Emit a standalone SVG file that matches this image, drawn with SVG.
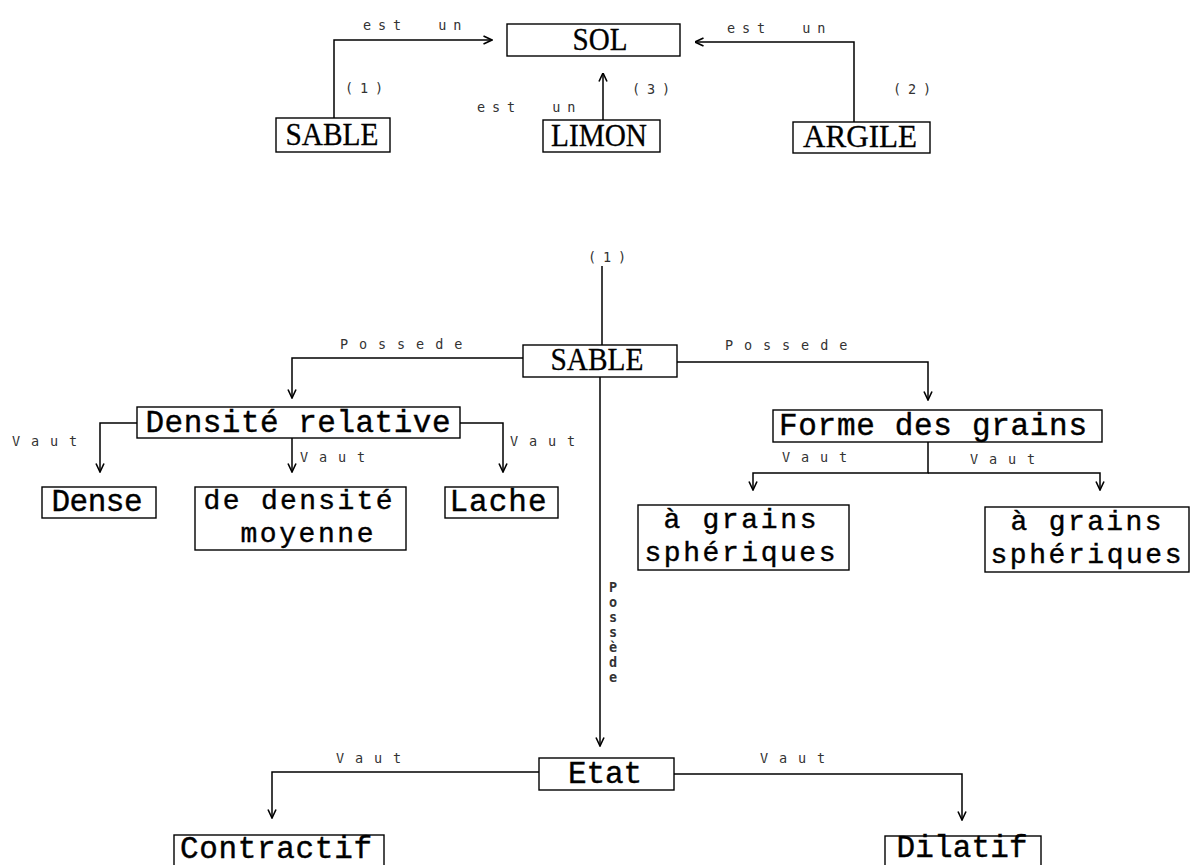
<svg xmlns="http://www.w3.org/2000/svg" width="1191" height="865" viewBox="0 0 1191 865">
<defs>
<style>
.box{fill:#fff;stroke:#000;stroke-width:1.4}
.nt{font-family:"Liberation Mono","DejaVu Sans Mono",monospace;font-size:31px;fill:#000;stroke:#000;stroke-width:0.4;text-anchor:middle}
.n2{font-size:28px}
.ct{font-family:"Liberation Serif","DejaVu Serif",serif;font-size:31px;fill:#000;stroke:#000;stroke-width:0.3;text-anchor:middle}
.el{font-family:"DejaVu Sans Mono","Liberation Mono",monospace;font-size:13.5px;fill:#333}
.e15{letter-spacing:6.9px}
.e19{letter-spacing:10.9px}
.edge{fill:none;stroke:#000;stroke-width:1.5}
</style>
<marker id="ah" viewBox="0 0 10 10" refX="9.5" refY="5" markerWidth="10" markerHeight="10" markerUnits="userSpaceOnUse" orient="auto">
<path d="M1,1 L9.5,5 L1,9" fill="none" stroke="#000" stroke-width="1.6"/>
</marker>
</defs>
<rect width="1191" height="865" fill="#fff"/>
<g id="connectors">
<path class="edge" d="M334,118 V40 H492" marker-end="url(#ah)"/>
<path class="edge" d="M854,122 V42 H695" marker-end="url(#ah)"/>
<path class="edge" d="M603,120 V73" marker-end="url(#ah)"/>
<path class="edge" d="M602,266 V345"/>
<path class="edge" d="M523,358 H292 V398" marker-end="url(#ah)"/>
<path class="edge" d="M677,362 H928 V400" marker-end="url(#ah)"/>
<path class="edge" d="M600,377 V746" marker-end="url(#ah)"/>
<path class="edge" d="M137,423 H100 V472" marker-end="url(#ah)"/>
<path class="edge" d="M292,438 V472" marker-end="url(#ah)"/>
<path class="edge" d="M460,423 H503 V472" marker-end="url(#ah)"/>
<path class="edge" d="M928,442 V473 H753 V490" marker-end="url(#ah)"/>
<path class="edge" d="M928,473 H1100 V490" marker-end="url(#ah)"/>
<path class="edge" d="M539,772 H272 V818" marker-end="url(#ah)"/>
<path class="edge" d="M674,774 H962 V820" marker-end="url(#ah)"/>
<text class="el e15" x="363" y="30" xml:space="preserve">est  un</text>
<text class="el e15" x="727" y="33" xml:space="preserve">est  un</text>
<text class="el e15" x="477" y="112" xml:space="preserve">est  un</text>
<text class="el e15" x="345" y="93">(1)</text>
<text class="el e15" x="632" y="94">(3)</text>
<text class="el e15" x="893" y="94">(2)</text>
<text class="el e15" x="588" y="262">(1)</text>
<text class="el e19" x="340" y="349">Possede</text>
<text class="el e19" x="725" y="350">Possede</text>
<text class="el e19" x="12" y="446">Vaut</text>
<text class="el e19" x="300" y="462">Vaut</text>
<text class="el e19" x="510" y="446">Vaut</text>
<text class="el e19" x="782" y="462">Vaut</text>
<text class="el e19" x="970" y="464">Vaut</text>
<text class="el e19" x="336" y="763">Vaut</text>
<text class="el e19" x="760" y="763">Vaut</text>
<text class="el" x="613" y="592" font-weight="bold" text-anchor="middle"><tspan x="613">P</tspan><tspan x="613" dy="15">o</tspan><tspan x="613" dy="15">s</tspan><tspan x="613" dy="15">s</tspan><tspan x="613" dy="15">è</tspan><tspan x="613" dy="15">d</tspan><tspan x="613" dy="15">e</tspan></text>
</g>
<g id="n-sol"><rect class="box" x="507" y="24" width="173" height="32"/><text class="ct" x="600" y="50" textLength="55" lengthAdjust="spacingAndGlyphs">SOL</text></g>
<g id="n-sable-top"><rect class="box" x="276" y="118" width="114" height="34"/><text class="ct" x="332" y="145" textLength="93" lengthAdjust="spacingAndGlyphs">SABLE</text></g>
<g id="n-limon"><rect class="box" x="543" y="120" width="117" height="32"/><text class="ct" x="599" y="146" textLength="96" lengthAdjust="spacingAndGlyphs">LIMON</text></g>
<g id="n-argile"><rect class="box" x="793" y="122" width="137" height="31"/><text class="ct" x="860" y="147" textLength="114" lengthAdjust="spacingAndGlyphs">ARGILE</text></g>
<g id="n-sable"><rect class="box" x="523" y="345" width="154" height="32"/><text class="ct" x="597" y="370" textLength="93" lengthAdjust="spacingAndGlyphs">SABLE</text></g>
<g id="n-densite"><rect class="box" x="137" y="407" width="323" height="31"/><text class="nt" x="298" y="432" textLength="305" lengthAdjust="spacing">Densité relative</text></g>
<g id="n-dense"><rect class="box" x="42" y="487" width="114" height="31"/><text class="nt" x="97" y="511" textLength="91" lengthAdjust="spacing">Dense</text></g>
<g id="n-moyenne"><rect class="box" x="195" y="487" width="211" height="63"/><text class="nt n2" x="298" y="509" textLength="189" lengthAdjust="spacing">de densité</text><text class="nt n2" x="307" y="542" textLength="133" lengthAdjust="spacing">moyenne</text></g>
<g id="n-lache"><rect class="box" x="445" y="487" width="113" height="31"/><text class="nt" x="498" y="511" textLength="97" lengthAdjust="spacing">Lache</text></g>
<g id="n-forme"><rect class="box" x="773" y="410" width="329" height="32"/><text class="nt" x="933" y="435" textLength="308" lengthAdjust="spacing">Forme des grains</text></g>
<g id="n-grains1"><rect class="box" x="638" y="505" width="211" height="65"/><text class="nt n2" x="740" y="528" textLength="153" lengthAdjust="spacing">à grains</text><text class="nt n2" x="740" y="561" textLength="191" lengthAdjust="spacing">sphériques</text></g>
<g id="n-grains2"><rect class="box" x="985" y="507" width="204" height="65"/><text class="nt n2" x="1086" y="530" textLength="151" lengthAdjust="spacing">à grains</text><text class="nt n2" x="1086" y="563" textLength="191" lengthAdjust="spacing">sphériques</text></g>
<g id="n-etat"><rect class="box" x="539" y="758" width="135" height="32"/><text class="nt" x="605" y="783" textLength="74" lengthAdjust="spacing">Etat</text></g>
<g id="n-contractif"><rect class="box" x="174" y="835" width="210" height="35"/><text class="nt" x="276" y="858" textLength="192" lengthAdjust="spacing">Contractif</text></g>
<g id="n-dilatif"><rect class="box" x="885" y="836" width="156" height="35"/><text class="nt" x="962" y="857" textLength="131" lengthAdjust="spacing">Dilatif</text></g>
</svg>
